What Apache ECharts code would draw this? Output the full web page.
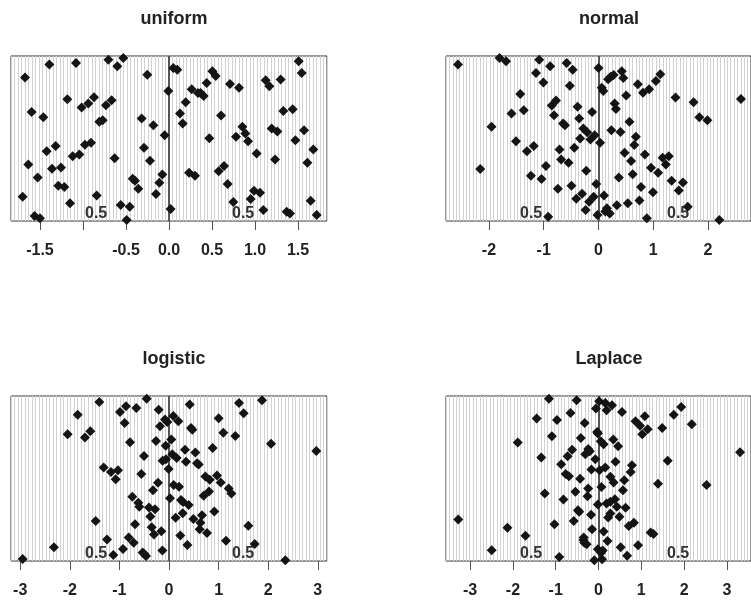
<!DOCTYPE html>
<html>
<head>
<meta charset="utf-8">
<script src="https://cdn.jsdelivr.net/npm/echarts@6/dist/echarts.min.js"></script>
<style>
  html, body { margin: 0; padding: 0; background: #fff; }
  #main { width: 751px; height: 600px; }
</style>
</head>
<body>
<div id="main"></div>
<script>
const titles = ['uniform', 'normal', 'logistic', 'Laplace']

const uniformX = [-1.674, -1.391, -1.081, -0.705, -0.531, -0.601, -0.252, -1.597, -1.461, -1.182,
  -1.016, -0.938, -0.872, -0.733, -0.667, -0.810, -0.771, -0.318, -0.182, -0.050,
  -0.008, -1.422, -1.318, -1.120, -1.043, -0.977, -0.907, -0.632, -0.291, -0.221,
  -1.636, -1.527, -1.360, -1.256, -1.287, -1.217, -1.702, -1.151, -0.841, -0.422,
  -0.395, -0.357, -0.562, -0.457, -0.492, -1.562, -1.500, -0.151, -0.112, -0.078,
  0.019, 0.050, 0.097, 0.504, 0.543, 0.438, 0.264, 0.337, 0.368, 0.403,
  0.194, 0.128, 0.159, 0.709, 0.814, 0.605, 0.469, 0.779, 0.853, 0.888,
  0.919, 1.019, 1.124, 1.167, 1.298, 1.508, 1.543, 1.329, 1.438, 1.194,
  1.260, 1.469, 1.570, 1.678, 1.609, 1.233, 0.233, 0.302, 0.578, 0.640,
  0.682, 0.748, 0.950, 0.988, 1.058, 1.097, 1.368, 1.407, 1.647, 1.717]
const uniformY = [0.869, 0.948, 0.958, 0.978, 0.988, 0.938, 0.887, 0.661, 0.629, 0.738,
  0.688, 0.712, 0.750, 0.702, 0.732, 0.601, 0.611, 0.621, 0.581, 0.520,
  0.788, 0.423, 0.454, 0.393, 0.403, 0.462, 0.474, 0.381, 0.444, 0.365,
  0.343, 0.264, 0.317, 0.325, 0.214, 0.206, 0.147, 0.107, 0.155, 0.256,
  0.244, 0.196, 0.097, 0.087, 0.006, 0.030, 0.016, 0.163, 0.232, 0.282,
  0.073, 0.927, 0.917, 0.907, 0.879, 0.837, 0.798, 0.776, 0.776, 0.758,
  0.720, 0.651, 0.591, 0.831, 0.808, 0.639, 0.502, 0.510, 0.571, 0.530,
  0.484, 0.409, 0.853, 0.817, 0.857, 0.968, 0.897, 0.667, 0.677, 0.560,
  0.542, 0.490, 0.550, 0.433, 0.353, 0.373, 0.292, 0.274, 0.302, 0.333,
  0.224, 0.115, 0.133, 0.183, 0.171, 0.067, 0.056, 0.046, 0.123, 0.036]

const normalX = [-2.565, -1.806, -1.688, -1.082, -1.141, -0.882, -1.006, -0.582, -0.471, -0.524,
  -1.429, -1.588, -1.365, -1.953, -2.159, -1.506, -1.306, -1.182, -0.853, -0.776,
  -0.812, -0.647, -0.612, -0.382, -0.353, -0.276, -0.206, -0.118, -0.071, -0.147,
  -0.335, -0.441, -0.712, -0.682, -0.547, -0.959, -1.235, -1.041, -0.741, -0.494,
  -0.224, -0.406, -0.300, -0.171, -0.088, -0.041, -0.235, -0.918, -0.018, 0.000,
  0.059, 0.088, 0.176, 0.224, 0.276, 0.424, 0.453, 0.029, 0.235, 0.294,
  0.318, 0.400, 0.506, 0.565, 0.718, 0.812, 0.924, 1.047, 1.129, 0.682,
  0.653, 0.476, 0.594, 0.847, 0.959, 1.088, 1.171, 1.282, 1.229, 1.406,
  1.735, 1.841, 1.988, 2.600, 0.371, 0.624, 0.776, 0.994, 1.335, 1.465,
  1.541, 0.100, 0.335, 0.535, 0.747, 0.153, 0.124, 0.206, 0.882, 1.629, 2.206]
const normalY = [0.948, 0.988, 0.968, 0.978, 0.897, 0.938, 0.839, 0.958, 0.917, 0.819,
  0.770, 0.651, 0.671, 0.571, 0.315, 0.484, 0.423, 0.454, 0.700, 0.730,
  0.641, 0.591, 0.581, 0.692, 0.621, 0.560, 0.538, 0.661, 0.520, 0.494,
  0.500, 0.444, 0.433, 0.373, 0.353, 0.333, 0.274, 0.254, 0.196, 0.214,
  0.304, 0.135, 0.165, 0.117, 0.147, 0.224, 0.067, 0.026, 0.036, 0.927,
  0.808, 0.788, 0.859, 0.875, 0.885, 0.907, 0.867, 0.474, 0.550, 0.712,
  0.679, 0.540, 0.760, 0.601, 0.829, 0.778, 0.798, 0.849, 0.889, 0.510,
  0.460, 0.413, 0.363, 0.403, 0.323, 0.292, 0.383, 0.393, 0.343, 0.748,
  0.720, 0.629, 0.611, 0.740, 0.264, 0.284, 0.206, 0.175, 0.244, 0.185,
  0.234, 0.155, 0.095, 0.107, 0.125, 0.077, 0.058, 0.046, 0.016, 0.087, 0.006]

const logisticX = [-1.405, -0.450, -1.841, -0.988, -0.867, -0.659, -0.894, -0.208, -0.081, -0.034,
  0.087, 0.188, -0.181, -2.043, -1.694, -1.586, -0.786, -0.262, -0.067, 0.047,
  0.417, 0.444, 0.470, 1.001, 1.095, 1.337, 1.411, 1.505, 1.875, 2.056,
  2.970, 0.323, 0.531, 0.880, -0.504, -0.128, -0.060, 0.067, 0.155, 0.343,
  0.565, 0.598, -0.007, -1.317, -1.169, -1.028, -1.075, -0.558, -0.222, -0.323,
  0.094, 0.202, 0.733, 0.820, 0.968, 1.042, 1.203, 1.257, 0.020, 0.242,
  0.282, 0.397, 0.699, 0.806, -0.739, -0.618, -0.598, -0.403, -0.282, -0.376,
  0.134, 0.276, 0.491, 0.665, 0.632, 0.618, 0.766, 0.914, -1.478, -0.685,
  -0.349, -0.302, -0.155, 0.228, -0.813, -0.712, -1.250, -2.319, -0.927, -1.122,
  -0.531, -0.464, -0.134, 0.370, 1.149, 1.599, 1.727, -2.950, 2.345, -0.497]
const logisticY = [0.964, 0.984, 0.887, 0.903, 0.938, 0.927, 0.837, 0.917, 0.857, 0.843,
  0.879, 0.847, 0.817, 0.768, 0.748, 0.786, 0.720, 0.728, 0.698, 0.736,
  0.948, 0.806, 0.796, 0.865, 0.778, 0.758, 0.958, 0.895, 0.974, 0.710,
  0.667, 0.675, 0.657, 0.685, 0.637, 0.607, 0.617, 0.647, 0.625, 0.601,
  0.593, 0.585, 0.558, 0.567, 0.540, 0.550, 0.496, 0.528, 0.474, 0.429,
  0.460, 0.450, 0.512, 0.492, 0.518, 0.476, 0.440, 0.409, 0.381, 0.369,
  0.357, 0.339, 0.395, 0.421, 0.389, 0.353, 0.329, 0.325, 0.313, 0.270,
  0.262, 0.290, 0.254, 0.278, 0.232, 0.192, 0.169, 0.300, 0.242, 0.222,
  0.204, 0.161, 0.181, 0.155, 0.143, 0.111, 0.131, 0.083, 0.073, 0.036,
  0.052, 0.030, 0.063, 0.097, 0.123, 0.214, 0.103, 0.012, 0.004, 0.042]

const laplaceX = [-1.158, -0.511, 0.015, 0.158, 0.316, 0.188, -0.060, 0.549, -0.654, -1.444,
  -0.970, -0.323, 0.865, 0.970, 1.083, 1.150, 1.023, 1.489, 1.759, 1.932,
  2.180, -0.030, -0.015, -1.090, -1.887, -0.414, 0.053, 0.120, 0.346, 0.459,
  -0.617, -0.722, -0.241, -0.203, -0.308, -1.338, -0.075, -0.872, 0.398, 0.782,
  1.617, 3.308, -0.165, 0.158, 0.023, -0.767, -0.692, -0.429, 0.278, 0.353,
  0.602, 0.752, 0.068, -0.241, -0.541, -1.256, -0.256, 0.571, 1.391, 2.526,
  -0.820, -0.015, 0.188, 0.278, 0.383, 0.429, 0.632, -0.481, -0.451, -0.173,
  0.226, 0.278, 0.489, -0.579, 0.827, 0.707, -3.278, -2.128, -1.030, -0.150,
  0.120, -0.346, -0.331, -0.278, 0.211, -1.707, 1.218, 1.286, 0.925, 0.519,
  -2.496, -0.015, 0.060, 0.669, -0.917, -0.098, 0.083, -0.353, 0.098]
const laplaceY = [0.984, 0.974, 0.968, 0.958, 0.944, 0.913, 0.925, 0.903, 0.897, 0.863,
  0.855, 0.837, 0.847, 0.819, 0.877, 0.798, 0.768, 0.806, 0.887, 0.933,
  0.829, 0.782, 0.772, 0.756, 0.718, 0.746, 0.726, 0.708, 0.736, 0.696,
  0.675, 0.635, 0.679, 0.665, 0.647, 0.627, 0.617, 0.587, 0.601, 0.581,
  0.607, 0.659, 0.554, 0.567, 0.550, 0.528, 0.514, 0.498, 0.510, 0.476,
  0.490, 0.540, 0.448, 0.440, 0.419, 0.409, 0.393, 0.429, 0.468, 0.460,
  0.373, 0.343, 0.349, 0.359, 0.375, 0.329, 0.323, 0.308, 0.298, 0.280,
  0.264, 0.288, 0.268, 0.242, 0.232, 0.212, 0.252, 0.202, 0.222, 0.192,
  0.179, 0.143, 0.111, 0.101, 0.121, 0.153, 0.173, 0.163, 0.095, 0.083,
  0.065, 0.071, 0.050, 0.032, 0.024, 0.004, 0.010, 0.127, 0.063]

// axis half-widths (data units) and tick marks / labels per panel
const halfRange = [1.837, 2.784, 3.185, 3.564]
const tickValues = [
  [-1.5, -1, -0.5, 0, 0.5, 1, 1.5],
  [-2, -1, 0, 1, 2],
  [-3, -2, -1, 0, 1, 2, 3],
  [-3, -2, -1, 0, 1, 2, 3],
]
const labelValues = [
  [-1.5, -0.5, 0, 0.5, 1, 1.5],
  [-2, -1, 0, 1, 2],
  [-3, -2, -1, 0, 1, 2, 3],
  [-3, -2, -1, 0, 1, 2, 3],
]
const cornerText = ['0.5', '0.5']

const xs = [uniformX, normalX, logisticX, laplaceX]
const ys = [uniformY, normalY, logisticY, laplaceY]

const font = '"Liberation Sans", Arial, Helvetica, sans-serif'
const panels = [
  { left: 11, top: 56 },
  { left: 446, top: 56 },
  { left: 11, top: 396 },
  { left: 446, top: 396 },
]
const W = 316
const H = 165

const myChart = echarts.init(document.getElementById('main'))

const grid = []
const xAxis = []
const yAxis = []
const series = []
const title = []
const graphic = []

panels.forEach((p, i) => {
  grid.push({
    left: p.left, top: p.top, width: W, height: H,
    show: true, borderColor: '#333', borderWidth: 1,
    backgroundColor: 'transparent',
  })
  xAxis.push({
    type: 'value', gridIndex: i,
    min: -halfRange[i], max: halfRange[i],
    axisLine: { show: false },
    splitLine: { show: false },
    axisTick: {
      show: true, length: 9, customValues: tickValues[i],
      lineStyle: { color: '#555', width: 1 },
    },
    axisLabel: {
      customValues: labelValues[i],
      margin: 22,
      color: '#222', fontSize: 16, fontWeight: 'bold', fontFamily: font,
      formatter: (v) => (i === 0 ? Number(v).toFixed(1) : String(v)),
    },
  })
  yAxis.push({ type: 'value', gridIndex: i, min: 0, max: 1, show: false })
  title.push({
    text: titles[i],
    left: p.left + W / 2, top: p.top - 51,
    textAlign: 'center',
    textStyle: { color: '#222', fontSize: 18, fontWeight: 'bold', fontFamily: font },
  })
  graphic.push({
    type: 'text', left: p.left + 74, top: p.top + 150, z: 1,
    style: { text: cornerText[0], fill: '#333', font: 'bold 16px ' + font },
  })
  graphic.push({
    type: 'text', left: p.left + 221, top: p.top + 150, z: 1,
    style: { text: cornerText[1], fill: '#333', font: 'bold 16px ' + font },
  })
})

// the fine grey rulings: one extra x axis per panel, split every unit
panels.forEach((p, i) => {
  xAxis.push({
    type: 'value', gridIndex: i, position: 'top',
    min: 0, max: 90, interval: 1,
    axisLine: { show: false }, axisTick: { show: false }, axisLabel: { show: false },
    splitLine: { show: true, lineStyle: { color: '#d2d2d2', width: 1 } },
  })
})

xs.forEach((xv, i) => {
  series.push({
    type: 'scatter',
    xAxisIndex: i, yAxisIndex: i,
    data: xv.map((x, k) => [x, ys[i][k]]),
    symbol: 'diamond',
    symbolSize: 10,
    itemStyle: { color: '#141414', opacity: 1 },
    clip: true,
    z: 3,
    markLine: {
      silent: true, symbol: 'none', label: { show: false },
      lineStyle: { color: '#555', width: 2, type: 'solid' },
      data: [{ xAxis: 0 }],
      z: 2,
    },
  })
})

const option = {
  animation: false,
  backgroundColor: '#fff',
  title,
  grid,
  xAxis,
  yAxis,
  graphic,
  series,
}

option && myChart.setOption(option)
</script>
</body>
</html>
